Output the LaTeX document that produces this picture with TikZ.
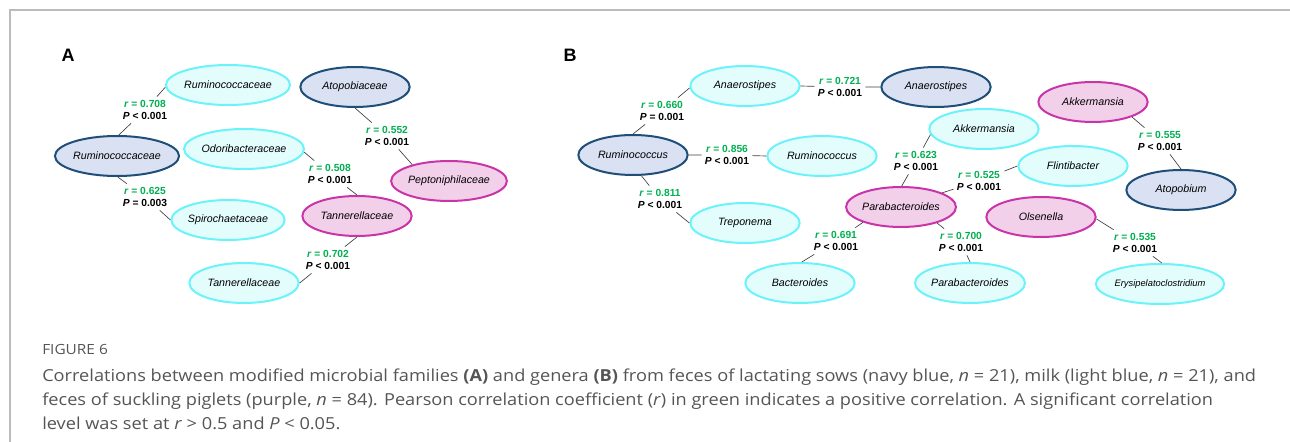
\documentclass[tikz,border=0pt]{standalone}
\usepackage{fontspec}
\setmainfont{Liberation Sans}
\newfontfamily\capfont[FakeStretch=1.1]{Open Sans}
\usetikzlibrary{shapes.geometric}

\definecolor{navyline}{HTML}{1F4E79}
\definecolor{navyfill}{HTML}{D9E1F2}
\definecolor{milkline}{HTML}{6CF2FA}
\definecolor{milkfill}{HTML}{E3FDFD}
\definecolor{pigline}{HTML}{C935A8}
\definecolor{pigfill}{HTML}{F2D0EA}
\definecolor{rgreen}{HTML}{00B050}
\definecolor{linkgray}{HTML}{404040}
\definecolor{capgray}{HTML}{555555}
\definecolor{framegray}{HTML}{BBBBBB}

\tikzset{
  taxon/.style={ellipse, minimum width=82pt, minimum height=30pt, inner sep=0pt,
    line width=1.5pt, font=\fontsize{8}{9}\selectfont\itshape},
  sow/.style={taxon, draw=navyline, fill=navyfill},
  milk/.style={taxon, draw=milkline, fill=milkfill},
  piglet/.style={taxon, draw=pigline, fill=pigfill},
  corr/.style={align=center, inner sep=1pt, outer sep=1.5pt,
    font=\fontsize{7.7}{9.6}\selectfont\bfseries},
  link/.style={draw=linkgray, line width=0.5pt},
  panel/.style={font=\fontsize{13.5}{16}\selectfont\bfseries},
  capline/.style={anchor=base west, inner sep=0pt, text=capgray,
    font=\capfont\fontsize{12.4}{18}\selectfont}
}
\newcommand{\rp}[2]{{\color{rgreen}\textit{r} = #1}\\\textit{P} #2}

\begin{document}
\begin{tikzpicture}[x=0.75pt,y=-0.75pt]
  \useasboundingbox (0,0) rectangle (1290,442);
  \draw[framegray, line width=1.1pt] (10,442) -- (10,10) -- (1290,10);

  % panel A
  \node[panel] (panelA) at (68,55) {A};
  \node[milk] (rumM) at (228,85) {Ruminococcaceae};
  \node[sow] (atop) at (355,87) {Atopobiaceae};
  \node[sow] (rumN) at (117,156) {Ruminococcaceae};
  \node[milk] (odor) at (244,149) {Odoribacteraceae};
  \node[piglet] (pept) at (449,181) {Peptoniphilaceae};
  \node[piglet] (tanP) at (357,216) {Tannerellaceae};
  \node[milk] (spiro) at (228,220) {Spirochaetaceae};
  \node[milk] (tanM) at (244,283) {Tannerellaceae};

  \node[corr] (lA1) at (145,110) {\rp{0.708}{< 0.001}};
  \node[corr] (lA2) at (145,197) {\rp{0.625}{= 0.003}};
  \node[corr] (lA3) at (330,174) {\rp{0.508}{< 0.001}};
  \node[corr] (lA4) at (387,136) {\rp{0.552}{< 0.001}};
  \node[corr] (lA5) at (328,260) {\rp{0.702}{< 0.001}};

  \draw[link] (rumM.182) -- (lA1) -- (rumN.85);
  \draw[link] (rumN.272) -- (lA2) -- (spiro.180);
  \draw[link] (odor.357) -- (lA3) -- (tanP.90);
  \draw[link] (atop.270) -- (lA4) -- (pept.156);
  \draw[link] (tanP.270) -- (lA5) -- (tanM.0);

  % panel B
  \node[panel] (panelB) at (570,55) {B};
  \node[milk] (anaM) at (745,86) {Anaerostipes};
  \node[sow] (anaN) at (936,87) {Anaerostipes};
  \node[sow] (rumcN) at (633,155) {Ruminococcus};
  \node[milk] (rumcM) at (822,156) {Ruminococcus};
  \node[piglet] (akkP) at (1093,102) {Akkermansia};
  \node[milk] (akkM) at (984,129) {Akkermansia};
  \node[milk] (flint) at (1073,166) {Flintibacter};
  \node[sow] (atopo) at (1181,190) {Atopobium};
  \node[piglet] (paraP) at (901,207) {Parabacteroides};
  \node[piglet] (olsen) at (1041,217) {Olsenella};
  \node[milk] (trep) at (745,223) {Treponema};
  \node[milk] (bact) at (800,283) {Bacteroides};
  \node[milk] (paraM) at (970,283) {Parabacteroides};
  \node[milk, font=\fontsize{7}{9}\selectfont\itshape] (erys) at (1160,284) {Erysipelatoclostridium};

  \node[corr] (lB1) at (662,111) {\rp{0.660}{= 0.001}};
  \node[corr] (lB2) at (840,87) {\rp{0.721}{< 0.001}};
  \node[corr] (lB3) at (727,155) {\rp{0.856}{< 0.001}};
  \node[corr] (lB4) at (660,199) {\rp{0.811}{< 0.001}};
  \node[corr] (lB5) at (916,161) {\rp{0.623}{< 0.001}};
  \node[corr] (lB6) at (979,181) {\rp{0.525}{< 0.001}};
  \node[corr] (lB7) at (1160,141) {\rp{0.555}{< 0.001}};
  \node[corr] (lB8) at (836,241) {\rp{0.691}{< 0.001}};
  \node[corr] (lB9) at (961,242) {\rp{0.700}{< 0.001}};
  \node[corr] (lB10) at (1135,243) {\rp{0.535}{< 0.001}};

  \draw[link] (anaM.182) -- (lB1) -- (rumcN.90);
  \draw[link] (anaM.0) -- (lB2) -- (anaN.180);
  \draw[link] (rumcN.0) -- (lB3) -- (rumcM.180);
  \draw[link] (rumcN.292) -- (lB4) -- (trep.180);
  \draw[link] (akkM.186) -- (lB5) -- (paraP.88);
  \draw[link] (flint.180) -- (lB6) -- (paraP.19);
  \draw[link] (akkP.339) -- (lB7) -- (atopo.90);
  \draw[link] (paraP.202) -- (lB8) -- (bact.85);
  \draw[link] (paraP.336) -- (lB9) -- (paraM.90);
  \draw[link] (olsen.358) -- (lB10) -- (erys.85);

  % caption
  \node[capline, font=\capfont\fontsize{10.5}{12}\selectfont] (figtag) at (42,354) {FIGURE 6};
  \node[capline] (cap1) at (42,381) {Correlations between modified microbial families \textbf{(A)} and genera \textbf{(B)} from feces of lactating sows (navy blue, \textit{n} = 21), milk (light blue, \textit{n} = 21), and};
  \node[capline] (cap2) at (42,405) {feces of suckling piglets (purple, \textit{n} = 84). Pearson correlation coefficient (\textit{r}) in green indicates a positive correlation. A significant correlation};
  \node[capline] (cap3) at (42,429) {level was set at \textit{r} > 0.5 and \textit{P} < 0.05.};
\end{tikzpicture}
\end{document}
